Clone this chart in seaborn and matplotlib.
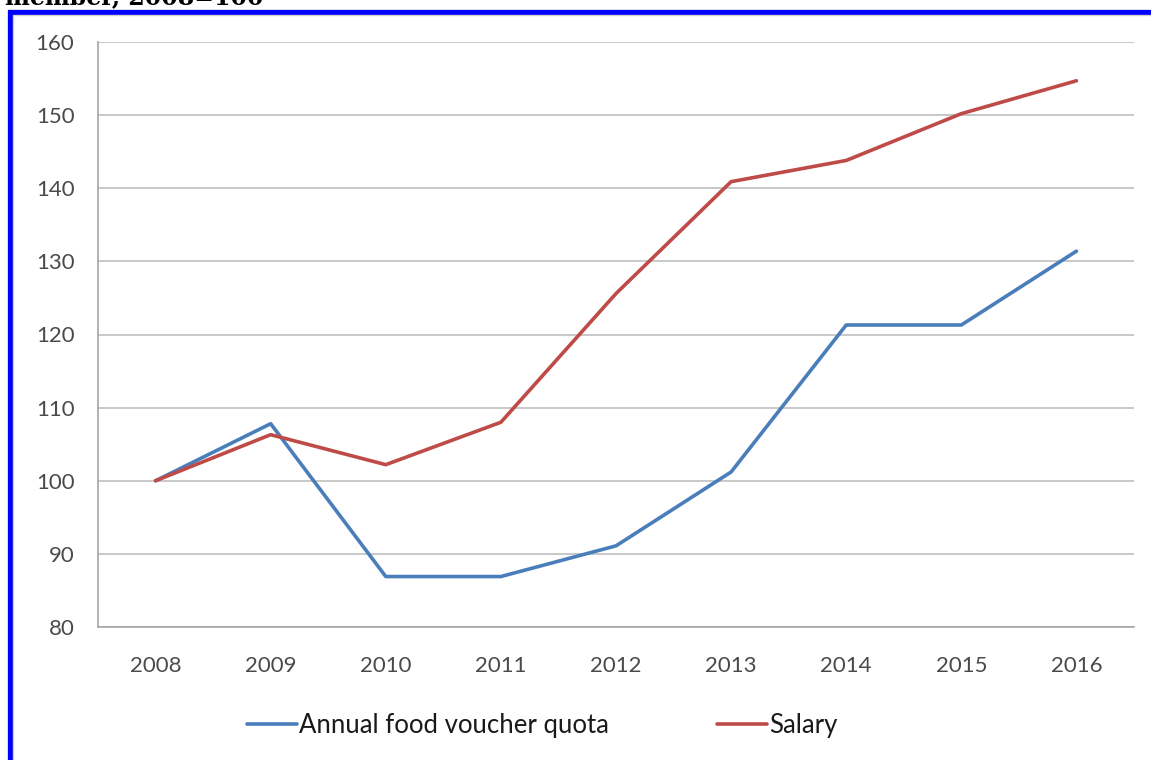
import matplotlib
matplotlib.use("Agg")
import matplotlib.pyplot as plt
import seaborn as sns
import pandas as pd
from matplotlib.patches import Rectangle

years = ["2008", "2009", "2010", "2011", "2012", "2013", "2014", "2015", "2016"]
food_voucher = [100, 107.8, 86.9, 86.9, 91.1, 101.2, 121.3, 121.3, 131.4]
salary = [100, 106.3, 102.2, 108.0, 125.6, 140.9, 143.8, 150.2, 154.7]
series_names = ["Annual food voucher quota", "Salary"]
yticks = [80, 90, 100, 110, 120, 130, 140, 150, 160]
title_text = "member, 2008=100"

df = pd.DataFrame({
    "year": years * 2,
    "value": food_voucher + salary,
    "series": [series_names[0]] * len(years) + [series_names[1]] * len(years),
})

sns.set_theme(style="white")
plt.rcParams["font.family"] = ["Lato", "DejaVu Sans"]

W, H = 1151, 760
fig = plt.figure(figsize=(W / 100, H / 100), dpi=100)
fig.patch.set_facecolor("white")

ax = fig.add_axes([98 / W, 1 - 627 / H, (1134 - 98) / W, (627 - 42) / H])
palette = {series_names[0]: "#4a7ebb", series_names[1]: "#be4b48"}
sns.lineplot(data=df, x="year", y="value", hue="series", palette=palette,
             linewidth=2.6, ax=ax, sort=False, legend=True)

ax.set_xlim(-0.5, len(years) - 0.5)
ax.set_ylim(80, 160)
ax.set_yticks(yticks)
ax.set_xticks(range(len(years)))
ax.set_xticklabels(years)
ax.set_xticks([i - 0.5 for i in range(len(years) + 1)], minor=True)
ax.set_xlabel("")
ax.set_ylabel("")
ax.grid(axis="y", color="#bfbfbf", linewidth=1.2)
ax.grid(axis="x", visible=False)
for s in ["top", "right"]:
    ax.spines[s].set_visible(False)
for s in ["left", "bottom"]:
    ax.spines[s].set_color("#a6a6a6")
    ax.spines[s].set_linewidth(1.2)
ax.tick_params(axis="x", which="major", length=0, pad=21, labelsize=16, labelcolor="#4a4a4a")
ax.tick_params(axis="x", which="minor", length=6, color="#a6a6a6", width=1.2, direction="out")
ax.tick_params(axis="y", which="major", length=7, color="#a6a6a6", width=1.2, direction="out",
               labelsize=16, labelcolor="#4a4a4a", pad=10)
ax.set_axisbelow(True)

leg = ax.legend(loc="center", bbox_to_anchor=(0.429, (725 - 627) / -(627 - 42)),
                ncol=2, frameon=False, fontsize=18.5, handlelength=1.95,
                handletextpad=0.08, columnspacing=4.2)
for t in leg.get_texts():
    t.set_color("#1a1a1a")
for h in leg.legend_handles:
    h.set_linewidth(2.6)

# outer frame (blue border, partially cropped)
fig.patches.append(Rectangle((9.5 / W, -0.1), 1.2, 1 - 11.5 / H + 0.1,
                             transform=fig.transFigure, fill=False,
                             edgecolor="#0000ff", linewidth=3.8, zorder=0))
fig.patches.append(Rectangle((13 / W, -0.1), 1.2, 1 - 15 / H + 0.1,
                             transform=fig.transFigure, fill=False,
                             edgecolor="#d0d0d0", linewidth=1.0, zorder=0))

fig.text(5 / W, 1 - 4 / H, title_text, family=["DejaVu Serif"], fontweight="bold",
         fontsize=17, va="baseline", ha="left", color="black")

fig.savefig("out.png", dpi=100, facecolor="white")
